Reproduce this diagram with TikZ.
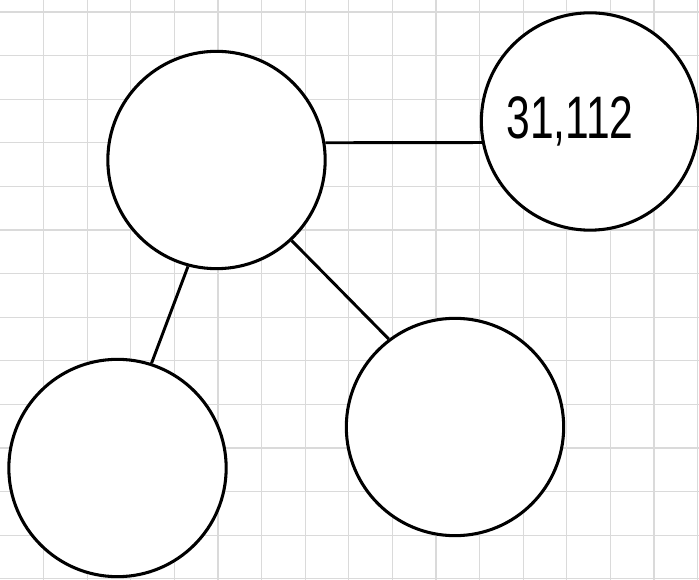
\documentclass[tikz,border=0pt]{standalone}
\usepackage{fontspec}
\setmainfont{Liberation Sans}
\usepackage{tikz}
\usetikzlibrary{positioning}
\definecolor{gridgray}{HTML}{DADADA}
\tikzset{
  bubble/.style={circle,draw=black,line width=2.3pt,minimum size=163pt,inner sep=0pt,fill=white},
  link/.style={black,line width=2.2pt},
  numtext/.style={font=\fontsize{45}{50}\selectfont,inner sep=0pt},
  gridline/.style={gridgray,line width=0.8pt},
}

\begin{document}
\begin{tikzpicture}[x=0.75pt,y=-0.75pt]
  \useasboundingbox[fill=white] (0,0) rectangle (699,580);
  % grid paper
  \foreach \k in {1,...,16} {
    \draw[gridline] (43.6*\k,0) -- (43.6*\k,580);
  }
  \foreach \k in {0,...,13} {
    \draw[gridline] (0,12+43.6*\k) -- (699,12+43.6*\k);
  }
  % connectors first, bubbles on top
  \coordinate (cA) at (216.5,160);
  \node[bubble] (nA) at (216.5,160) {};
  \node[bubble] (nB) at (590,121.5) {};
  \node[bubble] (nC) at (117.5,468) {};
  \node[bubble] (nD) at (455,427) {};
  \draw[link] (nA.9) -- (nB.191);
  \draw[link] (nA.255) -- (nC.72);
  \draw[link] (nA.313) -- (nD.127);
  \node[numtext] (tB) at ([xshift=-15pt,yshift=0pt]nB.center) {\scalebox{0.71}[1]{31,112}};
\end{tikzpicture}
\end{document}
